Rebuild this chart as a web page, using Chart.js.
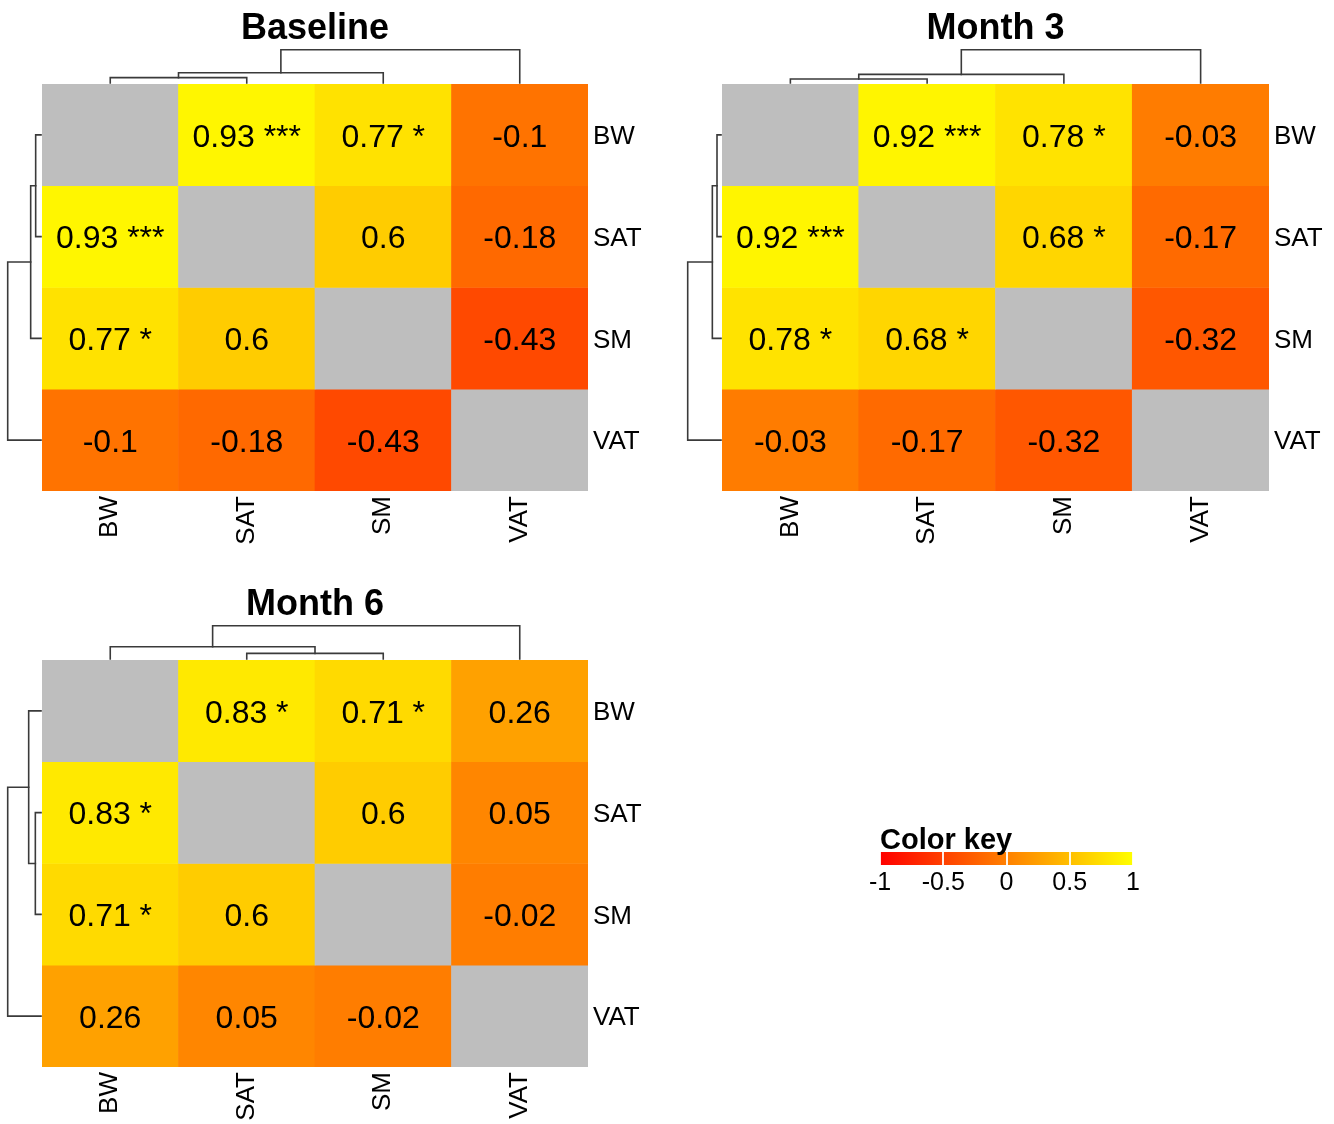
<!DOCTYPE html>
<html>
<head>
<meta charset="utf-8">
<title>Correlation heatmaps</title>
<script src="https://cdn.jsdelivr.net/npm/chart.js@4.4.1/dist/chart.umd.min.js"></script>
<style>
  html, body { margin: 0; padding: 0; background: #ffffff; }
  body { width: 1334px; height: 1124px; position: relative; overflow: hidden; }
  .panel { position: absolute; }
  .panel canvas { display: block; }
</style>
</head>
<body>
<div class="panel" style="left:0px;top:0px;width:667px;height:570px"><canvas id="baseline"></canvas></div>
<div class="panel" style="left:680px;top:0px;width:654px;height:570px"><canvas id="month3"></canvas></div>
<div class="panel" style="left:0px;top:576px;width:667px;height:548px"><canvas id="month6"></canvas></div>
<div class="panel" style="left:860px;top:800px;width:300px;height:100px"><canvas id="colorKey"></canvas></div>

<script>
// ---- data -------------------------------------------------------------
const variables = ['BW', 'SAT', 'SM', 'VAT'];

// Pearson r between body measures (rows/columns in the order of `variables`)
const baselineR = [
  [null, 0.93, 0.77, -0.1],
  [0.93, null, 0.6, -0.18],
  [0.77, 0.6, null, -0.43],
  [-0.1, -0.18, -0.43, null]
];
const baselineStars = [
  ['', '***', '*', ''],
  ['***', '', '', ''],
  ['*', '', '', ''],
  ['', '', '', '']
];

const month3R = [
  [null, 0.92, 0.78, -0.03],
  [0.92, null, 0.68, -0.17],
  [0.78, 0.68, null, -0.32],
  [-0.03, -0.17, -0.32, null]
];
const month3Stars = [
  ['', '***', '*', ''],
  ['***', '', '*', ''],
  ['*', '*', '', ''],
  ['', '', '', '']
];

const month6R = [
  [null, 0.83, 0.71, 0.26],
  [0.83, null, 0.6, 0.05],
  [0.71, 0.6, null, -0.02],
  [0.26, 0.05, -0.02, null]
];
const month6Stars = [
  ['', '*', '*', ''],
  ['*', '', '', ''],
  ['*', '', '', ''],
  ['', '', '', '']
];

// hierarchical clustering (hclust-style: negative = leaf number, positive = earlier merge)
const baselineMerge = [[-1, -2], [-3, 1], [-4, 2]];
const baselineHeight = [0.16, 0.31, 1.0];
const month3Merge = [[-1, -2], [-3, 1], [-4, 2]];
const month3Height = [0.12, 0.26, 1.0];
const month6Merge = [[-2, -3], [-1, 1], [-4, 2]];
const month6Height = [0.17, 0.37, 1.0];

const keyTicks = [-1, -0.5, 0, 0.5, 1];

// ---- helpers ----------------------------------------------------------
const FONT = '"Liberation Sans", Arial, Helvetica, sans-serif';
Chart.defaults.font.family = FONT;
Chart.defaults.color = '#000000';

const NA_COLOR = '#BEBEBE';
// red (-1) -> orange (0) -> yellow (+1)
function heatColor(v) {
  if (v === null || v === undefined) return NA_COLOR;
  const t = Math.max(0, Math.min(1, (v + 1) / 2));
  return 'rgb(255,' + Math.round(255 * t) + ',0)';
}

// draws an hclust dendrogram; `pos` gives pixel positions of leaves along the axis,
// `toXY` maps (position, distance-from-edge) to canvas coordinates
function drawTree(ctx, merge, heights, pos, depth, toXY) {
  const hmax = Math.max(...heights);
  const nodes = [];
  const node = (ref) => ref < 0 ? { p: pos[-ref - 1], o: 0 } : nodes[ref - 1];
  merge.forEach((pair, k) => {
    const a = node(pair[0]);
    const b = node(pair[1]);
    const o = heights[k] / hmax * depth;
    ctx.beginPath();
    let q = toXY(a.p, a.o); ctx.moveTo(q[0], q[1]);
    q = toXY(a.p, o); ctx.lineTo(q[0], q[1]);
    q = toXY(b.p, o); ctx.lineTo(q[0], q[1]);
    q = toXY(b.p, b.o); ctx.lineTo(q[0], q[1]);
    ctx.stroke();
    nodes.push({ p: (a.p + b.p) / 2, o: o });
  });
}

const heatDecor = {
  id: 'heatDecor',
  afterDatasetsDraw(chart, args, opts) {
    const { ctx, chartArea } = chart;
    ctx.save();

    // cell labels: r value plus significance stars
    ctx.fillStyle = '#000000';
    ctx.font = '32px ' + FONT;
    ctx.textAlign = 'center';
    ctx.textBaseline = 'middle';
    chart.data.datasets.forEach((ds, i) => {
      const meta = chart.getDatasetMeta(i);
      meta.data.forEach((bar, j) => {
        const d = ds.data[j];
        if (d.v === null) return;
        const txt = d.s ? d.v + ' ' + d.s : String(d.v);
        const p = bar.getProps(['x', 'y', 'base'], true);
        ctx.fillText(txt, p.x, (p.y + p.base) / 2 + 3);
      });
    });

    // panel title
    ctx.font = 'bold 36px ' + FONT;
    ctx.textBaseline = 'alphabetic';
    ctx.fillText(opts.title, (chartArea.left + chartArea.right) / 2, chartArea.top - 45);

    // dendrograms
    ctx.strokeStyle = '#3a3a3a';
    ctx.lineWidth = 1.6;
    ctx.lineCap = 'square';
    const xs = chart.scales.x;
    const rs = chart.scales.rows;
    const colPos = variables.map((v, k) => xs.getPixelForValue(k));
    const rowPos = variables.map((v, k) => rs.getPixelForValue(k));
    const top = chartArea.top - 1;
    const left = chartArea.left - 1;
    drawTree(ctx, opts.merge, opts.heights, colPos, opts.depth, (p, o) => [p, top - o]);
    drawTree(ctx, opts.merge, opts.heights, rowPos, opts.depth, (p, o) => [left - o, p]);

    ctx.restore();
  }
};

function heatmap(id, title, r, stars, merge, heights, box) {
  const datasets = variables.map((rowName, i) => ({
    label: rowName,
    data: variables.map((colName, j) => ({ x: colName, y: 1, v: r[i][j], s: stars[i][j] })),
    backgroundColor: (c) => c.raw ? heatColor(c.raw.v) : NA_COLOR,
    borderWidth: 0,
    barPercentage: 1,
    categoryPercentage: 1,
    stack: 'rows'
  }));
  const labelFont = { family: FONT, size: 26 };
  return new Chart(document.getElementById(id), {
    type: 'bar',
    data: { labels: variables, datasets: datasets },
    options: {
      responsive: true,
      maintainAspectRatio: false,
      animation: false,
      events: [],
      layout: { padding: { left: box.left, top: box.top, right: 0, bottom: 0 } },
      plugins: {
        legend: { display: false },
        tooltip: { enabled: false },
        heatDecor: { title: title, merge: merge, heights: heights, depth: 33.3 }
      },
      scales: {
        x: {
          type: 'category',
          position: 'bottom',
          stacked: true,
          offset: true,
          grid: { display: false, drawTicks: false },
          border: { display: false },
          ticks: { minRotation: 90, maxRotation: 90, padding: 5, color: '#000', font: labelFont, autoSkip: false },
          afterFit: (s) => { s.height = box.xAxis; }
        },
        y: {
          type: 'linear',
          stacked: true,
          min: 0,
          max: variables.length,
          reverse: true,
          display: false
        },
        rows: {
          type: 'category',
          labels: variables,
          position: 'right',
          offset: true,
          grid: { display: false, drawTicks: false },
          border: { display: false },
          ticks: { padding: 5, labelOffset: 2, color: '#000', font: labelFont, autoSkip: false },
          afterFit: (s) => { s.width = box.yAxis; }
        }
      }
    },
    plugins: [heatDecor]
  });
}

heatmap('baseline', 'Baseline', baselineR, baselineStars, baselineMerge, baselineHeight,
  { left: 42, top: 84, xAxis: 79, yAxis: 79 });
heatmap('month3', 'Month 3', month3R, month3Stars, month3Merge, month3Height,
  { left: 42, top: 84, xAxis: 79, yAxis: 65 });
heatmap('month6', 'Month 6', month6R, month6Stars, month6Merge, month6Height,
  { left: 42, top: 84, xAxis: 57, yAxis: 79 });

// ---- colour key -------------------------------------------------------
const keyDecor = {
  id: 'keyDecor',
  afterDraw(chart) {
    const { ctx, chartArea } = chart;
    const xs = chart.scales.x;
    ctx.save();
    // white separators at each key tick across the bar
    ctx.strokeStyle = 'rgba(255,255,255,0.9)';
    ctx.lineWidth = 2;
    keyTicks.forEach((v) => {
      const px = Math.round(xs.getPixelForValue(v));
      ctx.beginPath();
      ctx.moveTo(px, chartArea.top - 1);
      ctx.lineTo(px, chartArea.bottom + 1);
      ctx.stroke();
    });
    ctx.fillStyle = '#000';
    ctx.font = 'bold 29px ' + FONT;
    ctx.textAlign = 'left';
    ctx.textBaseline = 'alphabetic';
    ctx.fillText('Color key', chartArea.left, chartArea.top - 3);
    ctx.restore();
  }
};

new Chart(document.getElementById('colorKey'), {
  type: 'bar',
  data: {
    labels: ['r'],
    datasets: [{
      data: [[keyTicks[0], keyTicks[keyTicks.length - 1]]],
      backgroundColor: (c) => {
        const { chart } = c;
        if (!chart.chartArea) return heatColor(0);
        const xs = chart.scales.x;
        const lo = keyTicks[0];
        const hi = keyTicks[keyTicks.length - 1];
        const g = chart.ctx.createLinearGradient(xs.getPixelForValue(lo), 0, xs.getPixelForValue(hi), 0);
        keyTicks.forEach((v) => g.addColorStop((v - lo) / (hi - lo), heatColor(v)));
        return g;
      },
      borderWidth: 0,
      barPercentage: 1,
      categoryPercentage: 1
    }]
  },
  options: {
    indexAxis: 'y',
    responsive: true,
    maintainAspectRatio: false,
    animation: false,
    events: [],
    layout: { padding: { left: 20, right: 27, top: 52, bottom: 0 } },
    plugins: { legend: { display: false }, tooltip: { enabled: false } },
    scales: {
      x: {
        type: 'linear',
        min: keyTicks[0],
        max: keyTicks[keyTicks.length - 1],
        afterBuildTicks: (s) => { s.ticks = keyTicks.map((v) => ({ value: v })); },
        grid: { display: false, drawTicks: false },
        border: { display: false },
        ticks: { padding: 3, color: '#000', font: { family: FONT, size: 25 }, callback: (v) => String(v) },
        afterFit: (s) => { s.height = 35; }
      },
      y: { display: false }
    }
  },
  plugins: [keyDecor]
});
</script>
</body>
</html>
